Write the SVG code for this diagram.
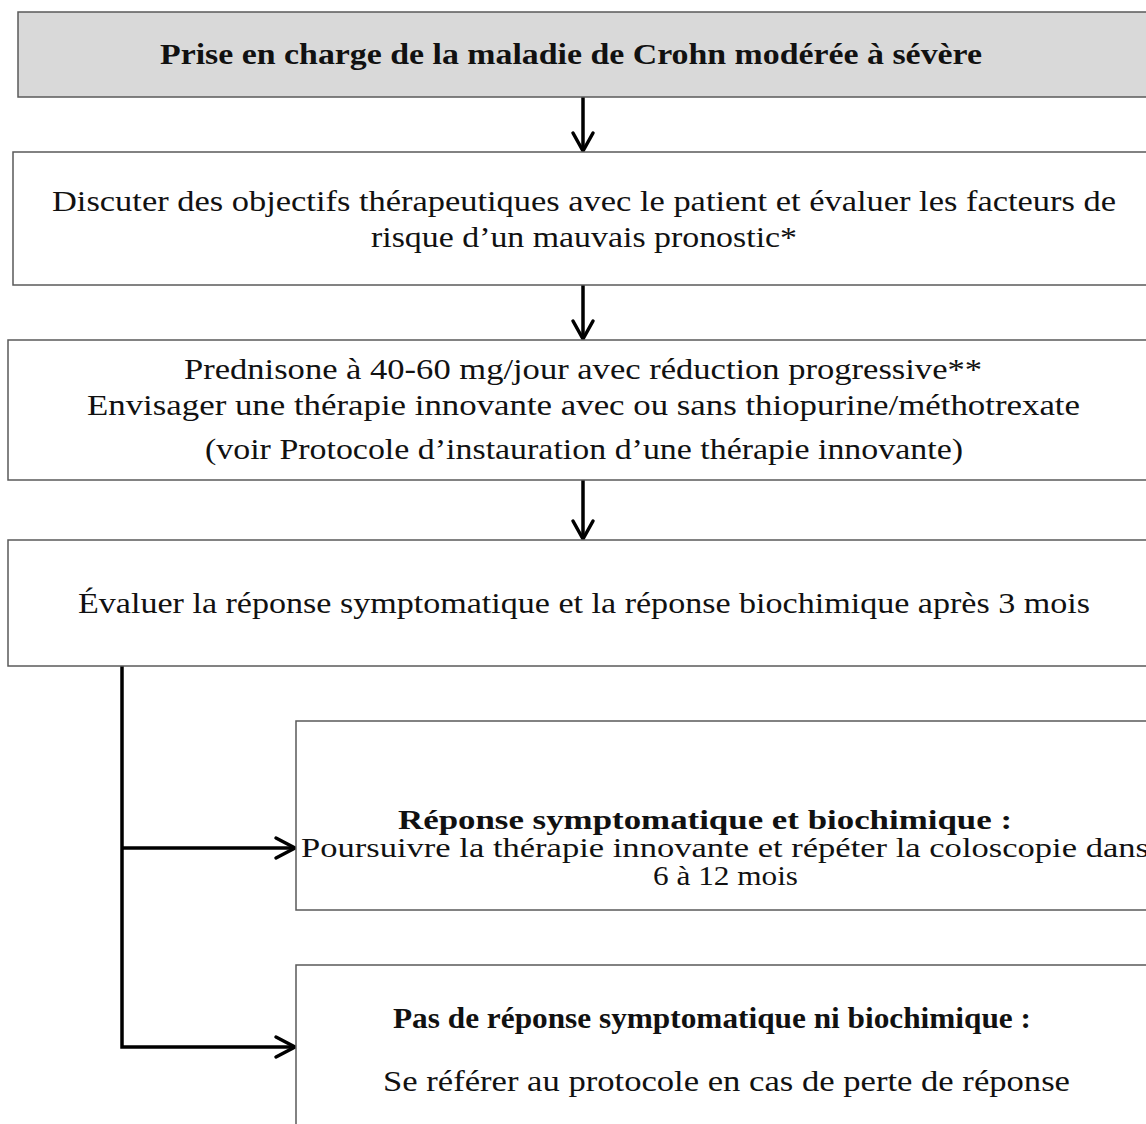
<svg xmlns="http://www.w3.org/2000/svg" width="1146" height="1124" viewBox="0 0 1146 1124">
<style>
.box{fill:#ffffff;stroke:#5a5a5a;stroke-width:1.5}
.title{fill:#d9d9d9}
.t{font-family:"Liberation Serif","DejaVu Serif",serif;font-size:30px;fill:#111}
.s{font-size:27px}
.b{font-weight:bold}
.c{fill:none;stroke:#000;stroke-width:3.5}
.h{fill:none;stroke:#000;stroke-width:3.5;stroke-linecap:round;stroke-linejoin:miter}
</style>
<rect width="1146" height="1124" fill="#ffffff"/>
<g id="connectors">
  <line class="c" x1="583" y1="97" x2="583" y2="150"/>
  <polyline class="h" points="573,133 583,151 593,133"/>
  <line class="c" x1="583" y1="285" x2="583" y2="338"/>
  <polyline class="h" points="573,321 583,339 593,321"/>
  <line class="c" x1="583" y1="480" x2="583" y2="538"/>
  <polyline class="h" points="573,521 583,539 593,521"/>
  <polyline class="c" points="122,666 122,1047 294,1047"/>
  <line class="c" x1="122" y1="848" x2="294" y2="848"/>
  <polyline class="h" points="276,838 295,848 276,858"/>
  <polyline class="h" points="276,1037 295,1047 276,1057"/>
</g>
<g id="node-title">
  <rect class="box title" x="18" y="12" width="1140" height="85"/>
  <text class="t b" x="160" y="64" textLength="822" lengthAdjust="spacingAndGlyphs">Prise en charge de la maladie de Crohn modérée à sévère</text>
</g>
<g id="node-discuss">
  <rect class="box" x="13" y="152" width="1145" height="133"/>
  <text class="t" x="52" y="211" textLength="1064" lengthAdjust="spacingAndGlyphs">Discuter des objectifs thérapeutiques avec le patient et évaluer les facteurs de</text>
  <text class="t" x="371" y="247" textLength="426" lengthAdjust="spacingAndGlyphs">risque d’un mauvais pronostic*</text>
</g>
<g id="node-prednisone">
  <rect class="box" x="8" y="340" width="1150" height="140"/>
  <text class="t" x="184" y="379" textLength="798" lengthAdjust="spacingAndGlyphs">Prednisone à 40-60 mg/jour avec réduction progressive**</text>
  <text class="t" x="87" y="415" textLength="993" lengthAdjust="spacingAndGlyphs">Envisager une thérapie innovante avec ou sans thiopurine/méthotrexate</text>
  <text class="t" x="205" y="459" textLength="758" lengthAdjust="spacingAndGlyphs">(voir Protocole d’instauration d’une thérapie innovante)</text>
</g>
<g id="node-evaluate">
  <rect class="box" x="8" y="540" width="1150" height="126"/>
  <text class="t" x="78" y="613" textLength="1012" lengthAdjust="spacingAndGlyphs">Évaluer la réponse symptomatique et la réponse biochimique après 3 mois</text>
</g>
<g id="node-response">
  <rect class="box" x="296" y="721" width="862" height="189"/>
  <text class="t s b" x="398" y="829" textLength="614" lengthAdjust="spacingAndGlyphs">Réponse symptomatique et biochimique :</text>
  <text class="t s" x="301" y="857" textLength="848" lengthAdjust="spacingAndGlyphs">Poursuivre la thérapie innovante et répéter la coloscopie dans</text>
  <text class="t s" x="653" y="885" textLength="145" lengthAdjust="spacingAndGlyphs">6 à 12 mois</text>
</g>
<g id="node-noresponse">
  <rect class="box" x="296" y="965" width="862" height="170"/>
  <text class="t b" x="393" y="1028" textLength="638" lengthAdjust="spacingAndGlyphs">Pas de réponse symptomatique ni biochimique :</text>
  <text class="t" x="383" y="1091" textLength="687" lengthAdjust="spacingAndGlyphs">Se référer au protocole en cas de perte de réponse</text>
</g>
</svg>
